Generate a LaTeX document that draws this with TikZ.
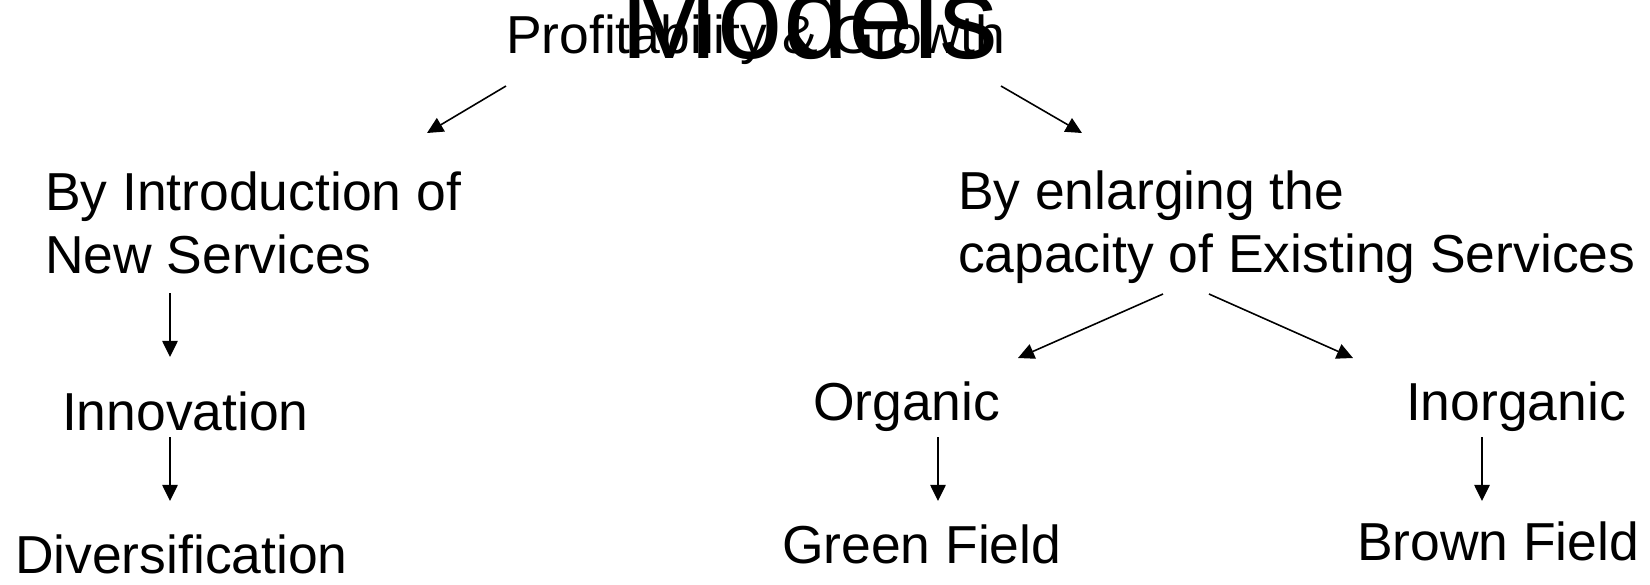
\documentclass[tikz,border=0pt]{standalone}
\usepackage{fontspec}
\setmainfont{Liberation Sans}
\usetikzlibrary{arrows.meta,positioning}

\begin{document}
\begin{tikzpicture}[x=0.01cm,y=-0.01cm,
    txt/.style={anchor=base west,inner sep=0pt,outer sep=0pt,align=left,
                font=\fontsize{15.2pt}{17.7pt}\selectfont},
    big/.style={anchor=base west,inner sep=0pt,outer sep=0pt,
                font=\fontsize{33.4pt}{36pt}\selectfont},
    arr/.style={-{Triangle[length=4.6pt,width=4.4pt]},line width=0.45pt}]
                      \useasboundingbox (0,0) rectangle (1650,584);
                      \node[big] (models) at (620,58) {Models};
                      \node[txt] (profit) at (506,53) {Profitability \& Growth};
                      \node[txt] (intro) at (45,273) {By Introduction of\\New Services};
                      \node[txt] (innov) at (62,430) {Innovation};
                      \node[txt] (divers) at (15,573) {Diversification};
                      \node[txt] (enlarge) at (958,272) {By enlarging the\\capacity of Existing Services};
                      \node[txt] (organic) at (813,420) {Organic};
                      \node[txt] (inorg) at (1406,420) {Inorganic};
                      \node[txt] (green) at (782,563) {Green Field};
                      \node[txt] (brown) at (1357,560) {Brown Field};
                      \path[arr]
                      ([shift={(0,33)}]profit.base west) edge ([shift={(382,-140)}]intro.base west)
                      ([shift={(495,33)}]profit.base west) edge ([shift={(124,-139)}]enlarge.base west)
                      ([shift={(125,20)}]intro.base west) edge ([shift={(108,-73)}]innov.base west)
                      ([shift={(108,7)}]innov.base west) edge ([shift={(155,-72)}]divers.base west)
                      ([shift={(205,22)}]enlarge.base west) edge ([shift={(205,-62)}]organic.base west)
                      ([shift={(251,22)}]enlarge.base west) edge ([shift={(-53,-62)}]inorg.base west)
                      ([shift={(125,17)}]organic.base west) edge ([shift={(156,-62)}]green.base west)
                      ([shift={(76,17)}]inorg.base west) edge ([shift={(125,-59)}]brown.base west);
                  \end{tikzpicture}
\end{document}
